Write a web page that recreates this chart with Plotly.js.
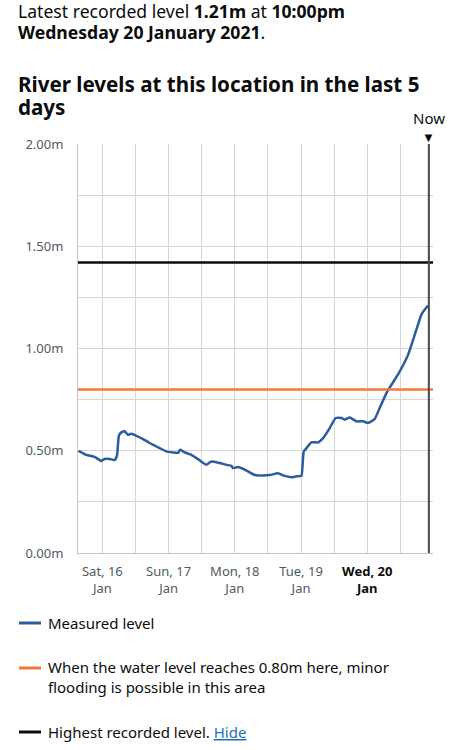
<!DOCTYPE html>
<html>
<head>
<meta charset="utf-8">
<script src="https://cdn.plot.ly/plotly-3.0.1.min.js"></script>
<style>
html,body{margin:0;padding:0;background:#fff;}
#chart{width:452px;height:750px;}
</style>
</head>
<body>
<div id="chart"></div>
<script>
// ---- data ----
var times = [
'2021-01-15 15:20','2021-01-15 18:10','2021-01-15 21:10','2021-01-15 23:40',
'2021-01-16 00:50','2021-01-16 02:40','2021-01-16 04:30','2021-01-16 05:20',
'2021-01-16 06:00','2021-01-16 06:55','2021-01-16 08:05','2021-01-16 09:15',
'2021-01-16 10:30','2021-01-16 12:20','2021-01-16 14:45','2021-01-16 17:10',
'2021-01-16 20:45','2021-01-16 23:10','2021-01-17 01:35','2021-01-17 03:25',
'2021-01-17 04:15','2021-01-17 05:50','2021-01-17 08:15','2021-01-17 10:40',
'2021-01-17 13:40','2021-01-17 15:30','2021-01-17 18:30','2021-01-17 21:00',
'2021-01-17 22:45','2021-01-17 23:20','2021-01-18 01:10','2021-01-18 04:15',
'2021-01-18 06:35','2021-01-18 07:50','2021-01-18 10:15','2021-01-18 12:40',
'2021-01-18 15:40','2021-01-18 18:05','2021-01-18 21:05','2021-01-18 23:30',
'2021-01-19 00:10','2021-01-19 01:00','2021-01-19 02:00','2021-01-19 03:45',
'2021-01-19 06:10','2021-01-19 08:00','2021-01-19 10:25','2021-01-19 12:35',
'2021-01-19 14:40','2021-01-19 15:50','2021-01-19 17:40','2021-01-19 20:05',
'2021-01-19 22:30','2021-01-20 00:15','2021-01-20 02:40','2021-01-20 04:30',
'2021-01-20 07:00','2021-01-20 08:10','2021-01-20 11:10','2021-01-20 14:50',
'2021-01-20 17:50','2021-01-20 19:40','2021-01-20 22:00'
];
var levels = [
0.50,0.48,0.47,0.45,
0.46,0.46,0.455,0.48,
0.575,0.59,0.595,0.578,
0.583,0.573,0.557,0.538,
0.513,0.497,0.492,0.49,
0.505,0.492,0.48,0.459,
0.432,0.447,0.44,0.431,
0.426,0.415,0.42,0.403,
0.385,0.38,0.379,0.381,
0.39,0.377,0.371,0.377,
0.377,0.497,0.513,0.541,
0.541,0.562,0.611,0.66,
0.66,0.652,0.662,0.644,
0.644,0.636,0.655,0.709,
0.783,0.81,0.873,0.97,
1.093,1.167,1.21
];
var floodLevel = 0.80;
var highestLevel = 1.42;
var nowTime = '2021-01-20 22:20';
var xRange = ['2021-01-15 15:10','2021-01-20 23:50'];
var xTickVals = ['2021-01-16 00:00','2021-01-16 12:00','2021-01-17 00:00','2021-01-17 12:00',
  '2021-01-18 00:00','2021-01-18 12:00','2021-01-19 00:00','2021-01-19 12:00',
  '2021-01-20 00:00','2021-01-20 12:00'];
var xTickText = ['Sat, 16<br>Jan','','Sun, 17<br>Jan','','Mon, 18<br>Jan','',
  'Tue, 19<br>Jan','','<span style="color:#0b0c0c"><b>Wed, 20<br>Jan</b></span>',''];
var yTickVals = [0,0.25,0.5,0.75,1,1.25,1.5,1.75,2];
var yTickText = ['0.00m','','0.50m','','1.00m','','1.50m','','2.00m'];

// ---- layout helpers (pixel -> paper) ----
var L = 78, R = 19, T = 144, B = 197, W = 452, H = 750;
var PW = W - L - R, PH = H - T - B;
function px(x){ return (x - L) / PW; }
function py(y){ return (H - B - y) / PH; }

var FONT = '"Noto Sans", Arial, sans-serif';
var INK = '#0b0c0c';
var GREY = '#505a5f';
var BLUE = '#2b5c9e';
var ORANGE = '#f47738';

function ann(text, x, y, size, opts){
  var a = {text: text, xref:'paper', yref:'paper', x: px(x), y: py(y),
    xanchor:'left', yanchor:'middle', showarrow:false,
    font:{family: FONT, size: size, color: INK}, align:'left'};
  if (opts) for (var k in opts) a[k] = opts[k];
  return a;
}

var annotations = [
  ann('Latest recorded level <b>1.21m</b> at <b>10:00pm</b>', 16, 11, 17.6),
  ann('<b>Wednesday 20 January 2021</b>.', 16, 32, 17.6),
  ann('<b>River levels at this location in the last 5</b>', 16, 84, 20.6),
  ann('<b>days</b>', 16, 107, 20.6),
  {text:'Now', xref:'x', yref:'paper', x: nowTime, y: py(118), xanchor:'center', yanchor:'middle',
    showarrow:false, font:{family:FONT, size:15, color:INK}},
  {text:'▼', xref:'x', yref:'paper', x: nowTime, y: py(137.5), xanchor:'center', yanchor:'middle',
    showarrow:false, font:{family:FONT, size:13, color:INK}},
  ann('Measured level', 46, 623, 15),
  ann('When the water level reaches 0.80m here, minor<br>flooding is possible in this area', 46, 677, 15),
  ann('Highest recorded level. <span style="color:#1d70b8"><u>Hide</u></span>', 46, 732, 15)
];

var shapes = [
  {type:'line', xref:'paper', yref:'y', x0:0, x1:1, y0:floodLevel, y1:floodLevel,
    line:{color:ORANGE, width:2.5}},
  {type:'line', xref:'paper', yref:'y', x0:0, x1:1, y0:highestLevel, y1:highestLevel,
    line:{color:INK, width:2.5}},
  {type:'line', xref:'x', yref:'paper', x0:nowTime, x1:nowTime, y0:0, y1:1,
    line:{color:'#454a4c', width:2}},
  {type:'line', xref:'paper', yref:'paper', x0:px(19), x1:px(41), y0:py(623), y1:py(623),
    line:{color:BLUE, width:3}},
  {type:'line', xref:'paper', yref:'paper', x0:px(19), x1:px(41), y0:py(668), y1:py(668),
    line:{color:ORANGE, width:3}},
  {type:'line', xref:'paper', yref:'paper', x0:px(19), x1:px(41), y0:py(732), y1:py(732),
    line:{color:INK, width:3}}
];

var traces = [{
  type:'scatter', mode:'lines', x: times, y: levels,
  line:{color:BLUE, width:2.5, shape:'spline', smoothing:0.5},
  hoverinfo:'skip', showlegend:false
}];

var layout = {
  width: W, height: H,
  margin:{l:L, r:R, t:T, b:B, pad:0},
  paper_bgcolor:'#fff', plot_bgcolor:'#fff',
  showlegend:false,
  font:{family:FONT, color:GREY},
  xaxis:{type:'date', range:xRange, tickmode:'array', tickvals:xTickVals, ticktext:xTickText,
    showgrid:true, gridcolor:'#d6d6d6', gridwidth:1, zeroline:false,
    showline:true, linecolor:'#c4c4c4', linewidth:1, ticks:'', ticklabelstandoff:6,
    tickfont:{family:FONT, size:13, color:GREY}, fixedrange:true},
  yaxis:{range:[0,2], tickmode:'array', tickvals:yTickVals, ticktext:yTickText,
    showgrid:true, gridcolor:'#d6d6d6', gridwidth:1, zeroline:false,
    showline:true, linecolor:'#c4c4c4', linewidth:1, ticks:'', ticklabelstandoff:11,
    tickfont:{family:FONT, size:13, color:GREY}, fixedrange:true},
  annotations: annotations,
  shapes: shapes
};

Plotly.newPlot('chart', traces, layout, {displayModeBar:false, staticPlot:true});
</script>
</body>
</html>
